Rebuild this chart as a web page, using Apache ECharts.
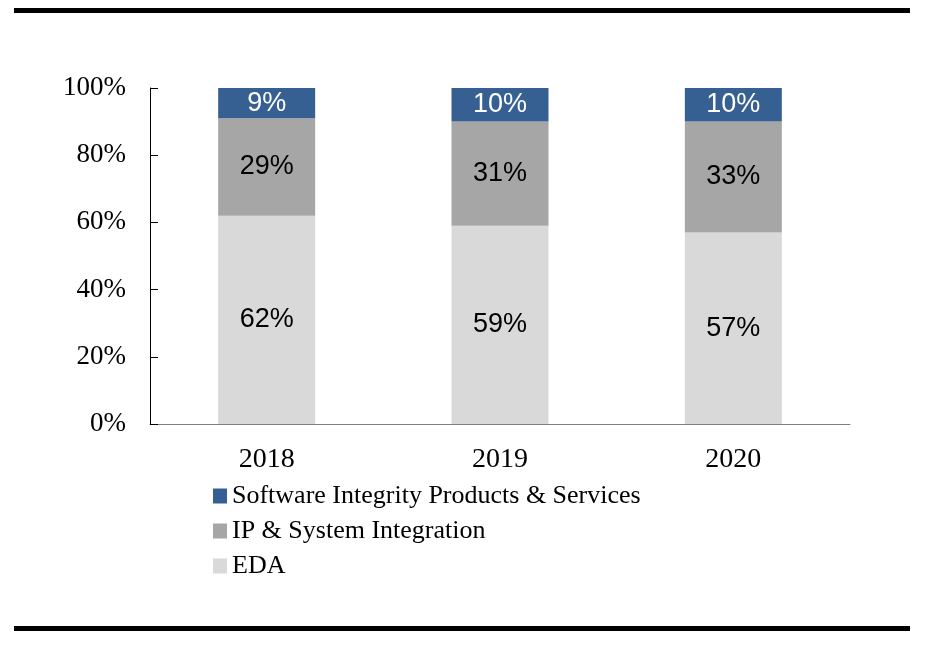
<!DOCTYPE html>
<html>
<head>
<meta charset="utf-8">
<script src="https://cdn.jsdelivr.net/npm/echarts@6/dist/echarts.min.js"></script>
<style>
html,body{margin:0;padding:0;background:#fff;}
#chart{width:928px;height:647px;}
</style>
</head>
<body>
<div id="chart"></div>
<script>
var categories = ['2018', '2019', '2020'];
var edaValues = [62, 59, 57];
var ipValues = [29, 31, 33];
var swValues = [9, 10, 10];
var yTicks = [0, 20, 40, 60, 80, 100];

var chart = echarts.init(document.getElementById('chart'));
var labelFont = {fontFamily: 'Liberation Sans, Arial, sans-serif', fontSize: 27};
function mkSeries(name, data, color, labelColor) {
  return {
    name: name, type: 'bar', stack: 'total', data: data, barWidth: 97,
    itemStyle: {color: color},
    label: Object.assign({show: true, position: 'inside', color: labelColor, formatter: '{c}%'}, labelFont)
  };
}
chart.setOption({
  animation: false,
  backgroundColor: '#fff',
  grid: {left: 150, right: 78, top: 88, bottom: 223},
  legend: {
    orient: 'vertical', left: 213, top: 483, padding: 0,
    itemWidth: 14, itemHeight: 15, itemGap: 9,
    icon: 'rect',
    data: ['Software Integrity Products & Services', 'IP & System Integration', 'EDA'],
    textStyle: {fontFamily: 'Liberation Serif, Times New Roman, serif', fontSize: 26, color: '#000'}
  },
  xAxis: {
    type: 'category', data: categories,
    axisLine: {lineStyle: {color: '#808080', width: 1}},
    axisTick: {inside: true, length: 8, lineStyle: {color: '#808080'}},
    axisLabel: {margin: 22, color: '#000', fontFamily: 'Liberation Serif, Times New Roman, serif', fontSize: 28}
  },
  yAxis: {
    type: 'value', min: 0, max: 100, interval: 20,
    splitLine: {show: false},
    axisLine: {show: true, lineStyle: {color: '#000', width: 1}},
    axisTick: {show: true, inside: true, length: 8, lineStyle: {color: '#000'}},
    axisLabel: {margin: 24, color: '#000', fontFamily: 'Liberation Serif, Times New Roman, serif', fontSize: 27, formatter: '{value}%'}
  },
  graphic: [
    {type: 'rect', shape: {x: 14, y: 8, width: 896, height: 5}, style: {fill: '#000'}},
    {type: 'rect', shape: {x: 14, y: 626, width: 896, height: 5}, style: {fill: '#000'}}
  ],
  series: [
    mkSeries('EDA', edaValues, '#D9D9D9', '#000'),
    mkSeries('IP & System Integration', ipValues, '#A6A6A6', '#000'),
    mkSeries('Software Integrity Products & Services', swValues, '#376092', '#fff')
  ]
});
</script>
</body>
</html>
